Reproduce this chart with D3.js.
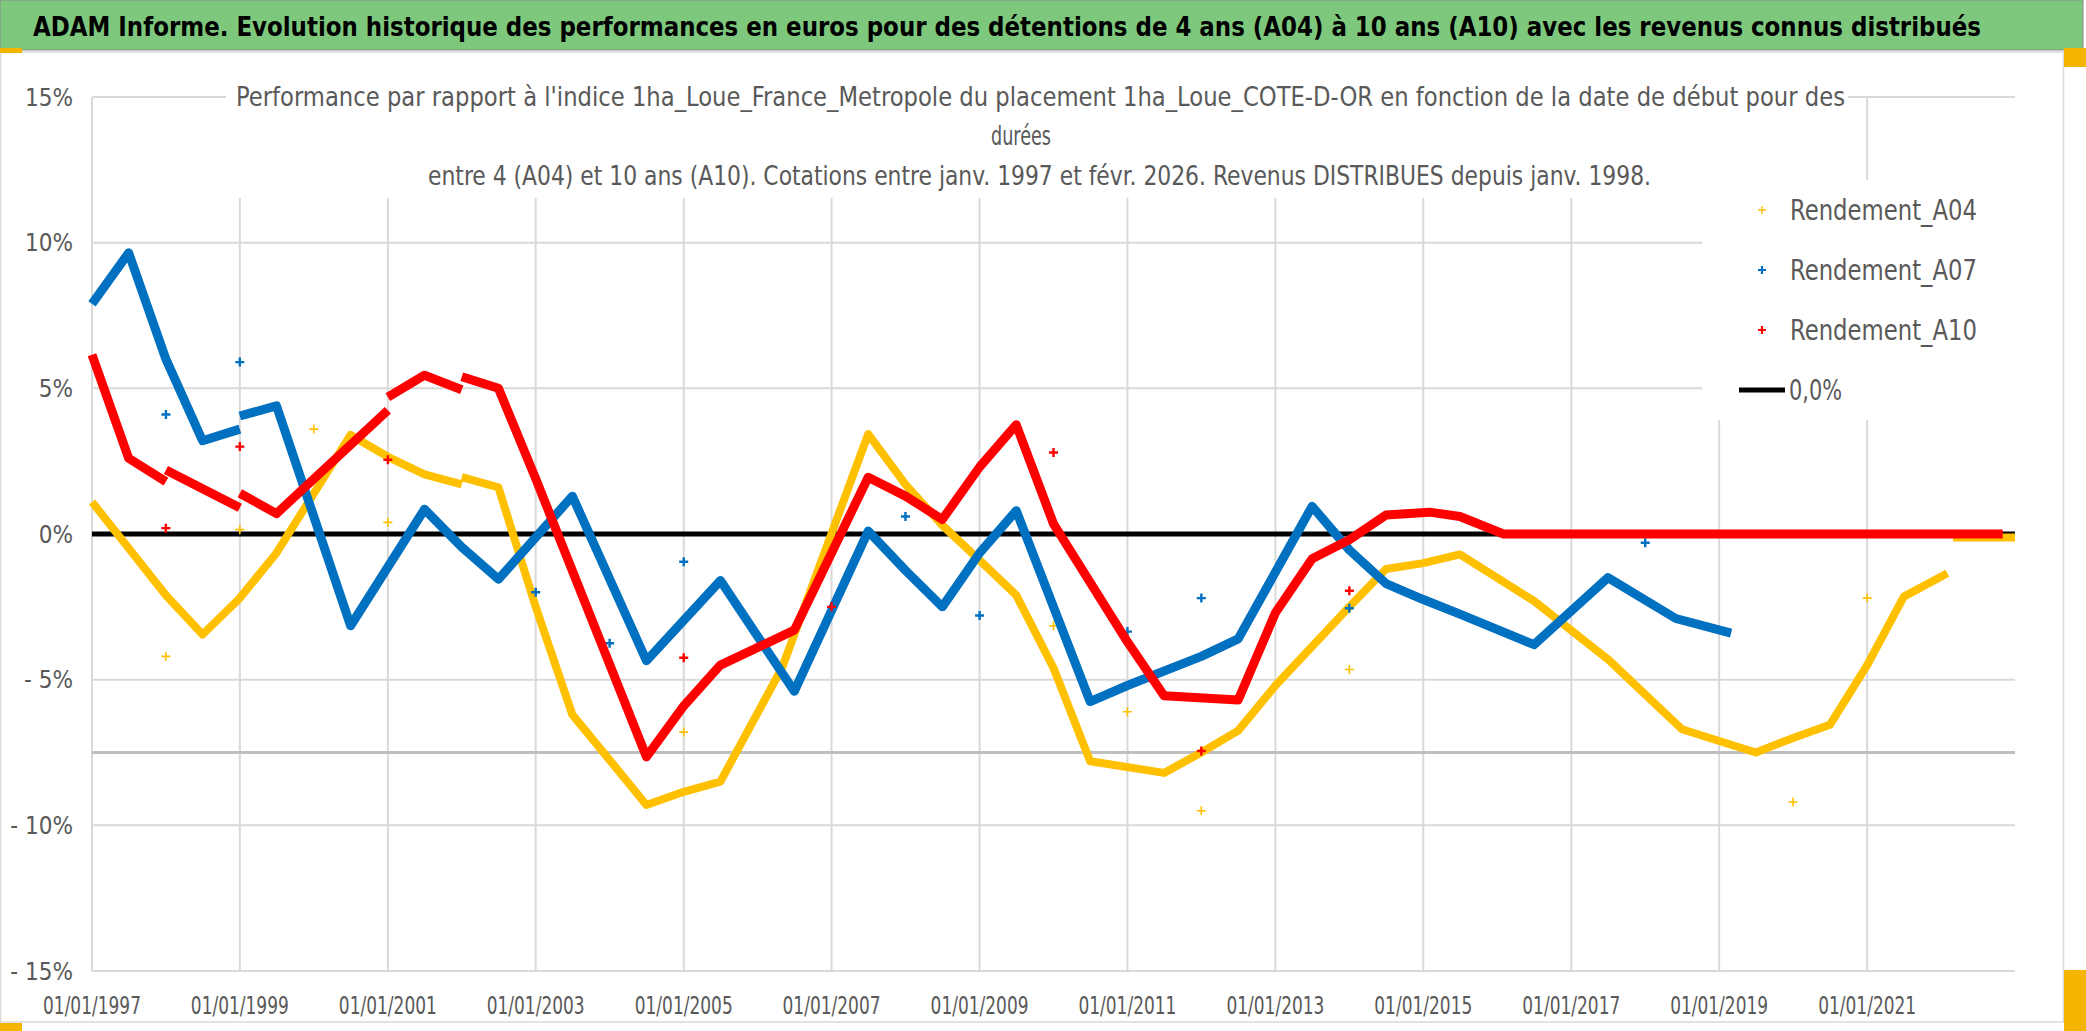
<!DOCTYPE html>
<html>
<head>
<meta charset="utf-8">
<script src="https://cdn.jsdelivr.net/npm/d3@7"></script>
<style>
  body { margin: 0; background: #fff; }
  svg { display: block; font-family: "Liberation Sans Narrow", "DejaVu Sans Condensed", "Open Sans", sans-serif; }
</style>
</head>
<body>
<svg id="chart" width="2086" height="1031"></svg>
<script>
// ---- chart values ----
var mainTitle = "ADAM Informe. Evolution historique des performances en euros pour des détentions de 4 ans (A04) à 10 ans (A10) avec les revenus connus distribués";
var subTitle = [
    "Performance par rapport à l'indice 1ha_Loue_France_Metropole  du placement 1ha_Loue_COTE-D-OR en fonction de la date de début pour des",
    "durées",
    "entre 4 (A04) et 10 ans (A10). Cotations entre janv. 1997 et févr. 2026. Revenus DISTRIBUES depuis janv. 1998."
];
var xTicks = ["1997-01-01", "1999-01-01", "2001-01-01", "2003-01-01", "2005-01-01", "2007-01-01",
              "2009-01-01", "2011-01-01", "2013-01-01", "2015-01-01", "2017-01-01", "2019-01-01", "2021-01-01"];
var yTicks = [-15, -10, -5, 0, 5, 10, 15];
var seriesNames = ["Rendement_A04", "Rendement_A07", "Rendement_A10"];
var zeroName = "0,0%";
var refLevel = -7.5;

// null = break in the series (jump at the start of a year)
var rendementA04 = [
    ["1997-01-01", 1.1], ["1998-01-01", -2.1], ["1998-07-01", -3.45], ["1999-01-01", -2.2],
    ["1999-07-01", -0.65], ["2000-07-01", 3.4], ["2001-01-01", 2.65], ["2001-07-01", 2.05],
    ["2002-01-01", 1.7], null,
    ["2002-01-01", 1.95], ["2002-07-01", 1.6], ["2003-01-01", -2.5], ["2003-07-01", -6.2],
    ["2004-07-01", -9.3], ["2005-01-01", -8.85], ["2005-07-01", -8.5], ["2006-05-01", -4.6],
    ["2007-07-01", 3.43], ["2008-01-01", 1.7], ["2008-07-01", 0.3], ["2009-01-01", -0.9],
    ["2009-07-01", -2.1], ["2010-01-01", -4.6], ["2010-07-01", -7.8], ["2011-07-01", -8.2],
    ["2012-01-01", -7.5], ["2012-07-01", -6.75], ["2013-01-01", -5.2], ["2014-01-01", -2.5],
    ["2014-07-01", -1.2], ["2015-01-01", -1.0], ["2015-07-01", -0.7], ["2016-07-01", -2.3],
    ["2017-07-01", -4.3], ["2018-07-01", -6.7], ["2019-07-01", -7.5], ["2020-01-01", -7.0],
    ["2020-07-01", -6.55], ["2021-01-01", -4.5], ["2021-07-01", -2.15], ["2022-02-01", -1.35], null,
    ["2022-03-01", -0.12], ["2023-01-01", -0.12]
];
var rendementA07 = [
    ["1997-01-01", 7.9], ["1997-07-01", 9.65], ["1998-01-01", 6.0], ["1998-07-01", 3.2],
    ["1999-01-01", 3.6], null,
    ["1999-01-01", 4.05], ["1999-07-01", 4.4], ["2000-07-01", -3.15], ["2001-07-01", 0.85],
    ["2002-01-01", -0.45], ["2002-07-01", -1.55], ["2003-07-01", 1.3], ["2004-07-01", -4.35],
    ["2005-07-01", -1.6], ["2006-07-01", -5.4], ["2007-07-01", 0.1], ["2008-01-01", -1.25],
    ["2008-07-01", -2.5], ["2009-01-01", -0.65], ["2009-07-01", 0.8], ["2010-07-01", -5.75],
    ["2011-01-01", -5.2], ["2012-01-01", -4.2], ["2012-07-01", -3.6], ["2013-07-01", 0.95],
    ["2014-01-01", -0.55], ["2014-07-01", -1.7], ["2015-01-01", -2.25], ["2015-07-01", -2.75],
    ["2016-07-01", -3.8], ["2017-07-01", -1.5], ["2018-06-01", -2.9], ["2019-03-01", -3.4]
];
var rendementA10 = [
    ["1997-01-01", 6.15], ["1997-07-01", 2.6], ["1998-01-01", 1.8], null,
    ["1998-01-01", 2.2], ["1999-01-01", 0.9], null,
    ["1999-01-01", 1.4], ["1999-07-01", 0.7], ["2001-01-01", 4.25], null,
    ["2001-01-01", 4.7], ["2001-07-01", 5.45], ["2002-01-01", 4.95], null,
    ["2002-01-01", 5.4], ["2002-07-01", 5.0], ["2003-01-01", 1.9], ["2004-07-01", -7.65],
    ["2005-01-01", -5.9], ["2005-07-01", -4.5], ["2006-07-01", -3.3], ["2007-07-01", 1.95],
    ["2008-01-01", 1.3], ["2008-07-01", 0.5], ["2009-01-01", 2.3], ["2009-07-01", 3.75],
    ["2010-01-01", 0.35], ["2011-01-01", -3.7], ["2011-07-01", -5.55], ["2012-07-01", -5.7],
    ["2013-01-01", -2.7], ["2013-07-01", -0.85], ["2014-01-01", -0.2], ["2014-07-01", 0.65],
    ["2015-02-01", 0.75], ["2015-07-01", 0.6], ["2016-02-01", 0.0], ["2022-11-01", 0.0]
];
// isolated points (first quote of some years)
var isolatedA04 = [
    ["1998-01-01", -4.2], ["1999-01-01", 0.15], ["2000-01-01", 3.6], ["2001-01-01", 0.4],
    ["2005-01-01", -6.8], ["2010-01-01", -3.15], ["2011-01-01", -6.1], ["2012-01-01", -9.5],
    ["2014-01-01", -4.65], ["2020-01-01", -9.2], ["2021-01-01", -2.2]
];
var isolatedA07 = [
    ["1998-01-01", 4.1], ["1999-01-01", 5.9], ["2003-01-01", -2.0], ["2004-01-01", -3.75],
    ["2005-01-01", -0.95], ["2008-01-01", 0.6], ["2009-01-01", -2.8], ["2011-01-01", -3.35],
    ["2012-01-01", -2.2], ["2014-01-01", -2.55], ["2018-01-01", -0.3]
];
var isolatedA10 = [
    ["1998-01-01", 0.2], ["1999-01-01", 3.0], ["2001-01-01", 2.55], ["2005-01-01", -4.25],
    ["2007-01-01", -2.5], ["2010-01-01", 2.8], ["2012-01-01", -7.45], ["2014-01-01", -1.95]
];

// ---- drawing ----
var svg = d3.select("#chart");
var parse = d3.timeParse("%Y-%m-%d");
var fmtDate = d3.timeFormat("%d/%m/%Y");
var grey = "#595959";

var x = d3.scaleTime()
    .domain([parse("1997-01-01"), parse("2023-01-01")])
    .range([92, 2015]);
var y = d3.scaleLinear()
    .domain([-15, 15])
    .range([971, 97]);

// frame of the chart object
svg.append("rect").attr("x", 0.5).attr("y", 52).attr("width", 2063).attr("height", 970)
    .attr("fill", "#fff").attr("stroke", "#d9d9d9").attr("stroke-width", 1.5);

// green banner
svg.append("rect").attr("x", 0).attr("y", 0).attr("width", 2083).attr("height", 50)
    .attr("fill", "#7ec87e").attr("stroke", "#8c8c8c").attr("stroke-width", 1);
svg.append("text")
    .attr("x", 1007).attr("y", 36)
    .attr("text-anchor", "middle")
    .attr("textLength", 1948).attr("lengthAdjust", "spacingAndGlyphs")
    .attr("font-size", 26).attr("font-weight", "bold").attr("fill", "#000")
    .text(mainTitle);

// little orange handles on the corners
[[0, 48, 22, 5], [2064, 48, 22, 19], [0, 1023, 22, 8], [2064, 970, 22, 61]].forEach(function(r) {
    svg.append("rect").attr("x", r[0]).attr("y", r[1]).attr("width", r[2]).attr("height", r[3])
        .attr("fill", "#f4b400");
});

// gridlines
var grid = svg.append("g");
grid.selectAll(".hgrid")
    .data(yTicks)
    .enter().append("line")
    .attr("x1", x.range()[0]).attr("x2", x.range()[1])
    .attr("y1", function(d) { return y(d); }).attr("y2", function(d) { return y(d); })
    .attr("stroke", "#d9d9d9").attr("stroke-width", 2);
grid.selectAll(".vgrid")
    .data(xTicks)
    .enter().append("line")
    .attr("x1", function(d) { return x(parse(d)); }).attr("x2", function(d) { return x(parse(d)); })
    .attr("y1", y(15)).attr("y2", y(-15))
    .attr("stroke", "#d9d9d9").attr("stroke-width", 2);

// darker reference line at -7.5%
svg.append("line")
    .attr("x1", x.range()[0]).attr("x2", x.range()[1])
    .attr("y1", y(refLevel)).attr("y2", y(refLevel))
    .attr("stroke", "#bfbfbf").attr("stroke-width", 3);

// chart title box hides the grid behind it
svg.append("rect").attr("x", 226).attr("y", 78).attr("width", 1622).attr("height", 120).attr("fill", "#fff");
var subPos = [[236, 106, 1609], [991, 145, 60], [428, 185, 1223]];
svg.selectAll(".subtitle")
    .data(subTitle)
    .enter().append("text")
    .attr("x", function(d, i) { return subPos[i][0]; })
    .attr("y", function(d, i) { return subPos[i][1]; })
    .attr("textLength", function(d, i) { return subPos[i][2]; })
    .attr("lengthAdjust", "spacingAndGlyphs")
    .attr("font-size", 27).attr("fill", grey)
    .text(function(d) { return d; });

// legend box hides the grid too
svg.append("rect").attr("x", 1702).attr("y", 180).attr("width", 314).attr("height", 240).attr("fill", "#fff");

// y labels
svg.selectAll(".ylab")
    .data(yTicks)
    .enter().append("text")
    .attr("x", 73).attr("y", function(d) { return y(d); })
    .attr("dy", "0.36em").attr("text-anchor", "end")
    .attr("font-size", 24).attr("fill", grey)
    .text(function(d) { return d < 0 ? "- " + Math.abs(d) + "%" : d + "%"; });

// x labels
svg.selectAll(".xlab")
    .data(xTicks)
    .enter().append("text")
    .attr("x", function(d) { return x(parse(d)); }).attr("y", 1005)
    .attr("dy", "0.36em").attr("text-anchor", "middle")
    .attr("textLength", 98).attr("lengthAdjust", "spacingAndGlyphs")
    .attr("font-size", 25).attr("fill", grey)
    .text(function(d) { return fmtDate(parse(d)); });

// 0% line
svg.append("line")
    .attr("x1", x.range()[0]).attr("x2", x.range()[1])
    .attr("y1", y(0)).attr("y2", y(0))
    .attr("stroke", "#000").attr("stroke-width", 5);

// series
var series = [
    {name: seriesNames[0], color: "#ffc000", width: 8, pts: rendementA04, iso: isolatedA04, cross: 1.6},
    {name: seriesNames[1], color: "#0070c0", width: 9, pts: rendementA07, iso: isolatedA07, cross: 2.4},
    {name: seriesNames[2], color: "#ff0000", width: 9, pts: rendementA10, iso: isolatedA10, cross: 2.4}
];

var line = d3.line()
    .defined(function(d) { return d !== null; })
    .x(function(d) { return x(parse(d[0])); })
    .y(function(d) { return y(d[1]); });

var plus = "M-4.5,0H4.5M0,-4.5V4.5";

series.forEach(function(s) {
    svg.append("path")
        .datum(s.pts)
        .attr("d", line)
        .attr("fill", "none")
        .attr("stroke", s.color)
        .attr("stroke-width", s.width)
        .attr("stroke-linejoin", "round");

    svg.selectAll(null)
        .data(s.iso)
        .enter().append("path")
        .attr("d", plus)
        .attr("transform", function(d) { return "translate(" + x(parse(d[0])) + "," + y(d[1]) + ")"; })
        .attr("stroke", s.color)
        .attr("stroke-width", s.cross);
});

// legend
var legend = svg.append("g");
series.forEach(function(s, i) {
    var ly = 210 + i * 60;
    legend.append("path")
        .attr("d", "M-4,0H4M0,-4V4")
        .attr("transform", "translate(1762," + ly + ")")
        .attr("stroke", s.color).attr("stroke-width", i == 0 ? 1.4 : 2.2);
    legend.append("text")
        .attr("x", 1790).attr("y", ly).attr("dy", "0.36em")
        .attr("textLength", 187).attr("lengthAdjust", "spacingAndGlyphs")
        .attr("font-size", 28).attr("fill", grey)
        .text(s.name);
});
legend.append("line")
    .attr("x1", 1739).attr("x2", 1785).attr("y1", 390).attr("y2", 390)
    .attr("stroke", "#000").attr("stroke-width", 5);
legend.append("text")
    .attr("x", 1789).attr("y", 390).attr("dy", "0.36em")
    .attr("textLength", 53).attr("lengthAdjust", "spacingAndGlyphs")
    .attr("font-size", 28).attr("fill", grey)
    .text(zeroName);
</script>
</body>
</html>
